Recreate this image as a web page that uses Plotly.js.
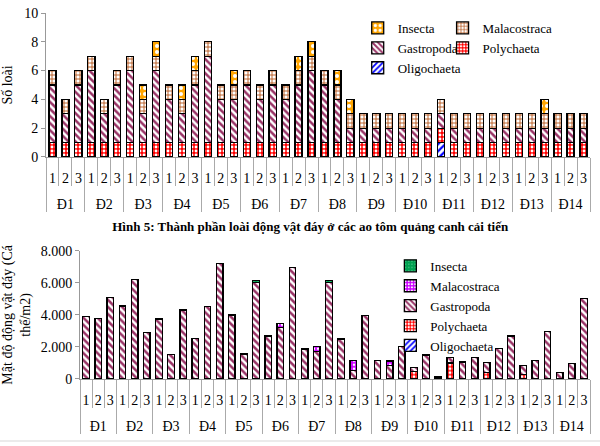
<!DOCTYPE html>
<html><head><meta charset="utf-8">
<script src="https://cdn.plot.ly/plotly-3.0.1.min.js"></script>
<style>body{margin:0;background:#fff}</style>
</head><body><div id="chart" style="width:600px;height:446px"></div>
<script>
const groups = ['Đ1','Đ2','Đ3','Đ4','Đ5','Đ6','Đ7','Đ8','Đ9','Đ10','Đ11','Đ12','Đ13','Đ14'];
const subs = ['1','2','3'];
const xOuter = [], xInner = [];
groups.forEach(g => subs.forEach(s => { xOuter.push(g); xInner.push(s); }));
const lab = s => '<span style="font-size:14px">' + s + '</span>';
const xOuterLabel = xOuter.map(lab);
const xInnerLabel = xInner.map(lab);

// Top chart: number of species (Số loài)
const topOligochaeta = [0,0,0, 0,0,0, 0,0,0, 0,0,0, 0,0,0, 0,0,0, 0,0,0, 0,0,0, 0,0,0, 0,0,0, 1,0,0, 0,0,0, 0,0,0, 0,0,0];
const topPolychaeta  = [1,1,1, 1,1,1, 1,1,1, 1,1,1, 1,1,1, 1,1,1, 1,1,1, 1,1,1, 1,1,1, 1,1,1, 1,1,1, 1,1,1, 1,1,1, 1,1,1];
const topGastropoda  = [4,2,4, 5,2,4, 5,2,5, 3,2,4, 6,3,3, 4,3,4, 3,4,5, 4,3,1, 1,1,1, 1,1,1, 1,1,1, 1,1,1, 1,1,1, 1,1,1];
const topMalacostraca= [1,1,1, 1,1,1, 1,1,1, 1,1,1, 1,1,1, 1,1,1, 1,1,1, 1,1,1, 1,1,1, 1,1,1, 1,1,1, 1,1,1, 1,1,1, 1,1,1];
const topInsecta     = [0,0,0, 0,0,0, 0,1,1, 0,1,1, 0,0,1, 0,0,0, 0,1,1, 0,1,1, 0,0,0, 0,0,0, 0,0,0, 0,0,0, 0,0,1, 0,0,0];

// Bottom chart: density (Cá thể/m2)
const botOligochaeta = [0,0,0, 0,0,0, 0,0,0, 0,0,0, 0,0,0, 0,0,0, 0,0,0, 0,0,0, 0,0,0, 0,0,0, 0,0,0, 0,0,0, 0,0,0, 0,0,0];
const botPolychaeta  = [0,0,0, 0,0,0, 0,0,0, 0,0,0, 0,0,0, 0,0,0, 0,0,0, 0,0,0, 0,0,0, 450,0,0, 1000,0,0, 400,0,0, 300,0,0, 0,0,0];
const botGastropoda  = [3880,3780,5070, 4560,6200,2920, 3750,1530,4300, 2540,4500,7200, 3990,1520,6000, 2680,3200,6940, 1870,1720,6000, 2490,540,3970, 1140,820,2020, 280,1500,120, 350,1060,1330, 620,1890,2680, 530,1160,2950, 400,980,5030];
const botMalacostraca= [0,0,0, 0,0,0, 0,0,0, 0,0,0, 0,80,0, 0,250,0, 0,300,0, 0,600,0, 0,300,0, 0,0,0, 0,0,0, 0,0,0, 0,0,0, 0,0,0];
const botInsecta     = [0,0,0, 0,0,0, 0,0,0, 0,0,0, 0,0,150, 0,0,0, 0,0,150, 0,0,0, 0,0,0, 0,0,0, 0,0,0, 0,0,0, 0,0,0, 0,0,0];

const yTickVals2 = [0,2000,4000,6000,8000];
const yTickText2 = ['0','2.000','4.000','6.000','8.000'];

const FONT = 'Liberation Serif, Times New Roman, serif';
const line = {color:'#000', width:1.3};

function bar(name, y, xa, ya, leg, color, pat) {
  return {type:'bar', name:name, x:[xOuterLabel, xInnerLabel], y:y, xaxis:xa, yaxis:ya, legend:leg,
    marker:{color:color, line:line, pattern:pat}, hoverinfo:'skip'};
}
function sep(xa, ya) {
  return {type:'scatter', mode:'markers', x:[xOuter, xInner], y:xOuter.map(() => 0), xaxis:xa, yaxis:ya,
    marker:{opacity:0, size:1}, showlegend:false, hoverinfo:'skip'};
}

const data = [
  bar('Oligochaeta', topOligochaeta, 'x','y','legend', '#fff', {shape:'/', fgcolor:'#0000ff', bgcolor:'#ffffff', size:5, solidity:0.45}),
  bar('Polychaeta', topPolychaeta, 'x','y','legend2', '#ff0000', {shape:'.', fgcolor:'#ffffff', bgcolor:'#ff0000', size:4, solidity:0.4}),
  bar('Gastropoda', topGastropoda, 'x','y','legend', '#fff', {shape:'\\', fgcolor:'#993366', bgcolor:'#ffffff', size:5, solidity:0.5}),
  bar('Malacostraca', topMalacostraca, 'x','y','legend2', '#fff', {shape:'+', fgcolor:'#b5571d', bgcolor:'#ffffff', size:4, solidity:0.4}),
  bar('Insecta', topInsecta, 'x','y','legend', '#ffa500', {shape:'.', fgcolor:'#ffffff', bgcolor:'#ffa500', size:6, solidity:0.35}),

  bar('Oligochaeta', botOligochaeta, 'x2','y2','legend3', '#fff', {shape:'/', fgcolor:'#0000ff', bgcolor:'#ffffff', size:5, solidity:0.45}),
  bar('Polychaeta', botPolychaeta, 'x2','y2','legend3', '#ff0000', {shape:'.', fgcolor:'#ffffff', bgcolor:'#ff0000', size:4, solidity:0.4}),
  bar('Gastropoda', botGastropoda, 'x2','y2','legend3', '#fff', {shape:'\\', fgcolor:'#993366', bgcolor:'#ffffff', size:5, solidity:0.5}),
  bar('Malacostraca', botMalacostraca, 'x2','y2','legend3', '#cc00ff', {shape:'.', fgcolor:'#ffffff', bgcolor:'#cc00ff', size:4, solidity:0.3}),
  bar('Insecta', botInsecta, 'x2','y2','legend3', '#00a050', {shape:'.', fgcolor:'#40c080', bgcolor:'#00a050', size:4, solidity:0.2}),

  sep('x3','y'), sep('x4','y2')
];

const xcommon = {type:'multicategory', showline:true, linecolor:'#999', linewidth:1,
  ticks:'', tickangle:0, range:[-0.5, 41.5], autorange:false, tickmode:'linear', tick0:0, dtick:1,
  ticklabelstandoff:-9,
  showdividers:true, dividercolor:'#aaa', dividerwidth:1,
  showgrid:false, zeroline:false, tickfont:{family:FONT, size:28, color:'#000'}};
const xsep = {type:'multicategory', showline:false, showticklabels:false, showdividers:false,
  ticks:'outside', tickson:'boundaries', ticklen:28, tickcolor:'#aaa', tickwidth:1,
  tickmode:'linear', tick0:0, dtick:1,
  range:[-0.5, 41.5], autorange:false, showgrid:false, zeroline:false};

const legendCommon = {bgcolor:'rgba(0,0,0,0)', font:{family:FONT, size:13, color:'#000'},
  traceorder:'reversed', itemwidth:30, orientation:'v', xanchor:'left', yanchor:'top'};

const layout = {
  width:600, height:446,
  margin:{l:46, r:10, t:13, b:67},
  paper_bgcolor:'#fff', plot_bgcolor:'rgba(0,0,0,0)',
  barmode:'stack', bargap:0.45,
  font:{family:FONT, color:'#000'},
  title:{text:'<b>Hình 5: Thành phần loài động vật đáy ở các ao tôm quảng canh cải tiến</b>',
    x:0.517, xanchor:'center', y:0.493, yanchor:'middle', font:{family:FONT, size:13, color:'#000'}},
  xaxis:Object.assign({}, xcommon, {domain:[0,1], anchor:'y'}),
  xaxis2:Object.assign({}, xcommon, {domain:[0.0625,1], anchor:'y2'}),
  xaxis3:Object.assign({}, xsep, {overlaying:'x', anchor:'y', side:'bottom'}),
  xaxis4:Object.assign({}, xsep, {overlaying:'x2', anchor:'y2', side:'bottom'}),
  yaxis:{domain:[0.6066,1], anchor:'x', range:[0,10], dtick:2, showline:true, linecolor:'#999',
    ticks:'outside', ticklen:4, tickcolor:'#999', showgrid:false, zeroline:false,
    tickfont:{family:FONT, size:14, color:'#000'},
    title:{text:'Số loài', font:{family:FONT, size:14, color:'#000'}, standoff:8}},
  yaxis2:{domain:[0,0.3505], anchor:'x2', range:[0,8000], tickvals:yTickVals2, ticktext:yTickText2,
    showline:true, linecolor:'#999', ticks:'outside', ticklen:4, tickcolor:'#999', showgrid:false, zeroline:false,
    tickfont:{family:FONT, size:14, color:'#000'},
    title:{text:'Mật độ động vật đáy (Cá<br>thể/m2)', font:{family:FONT, size:14, color:'#000'}, standoff:6}},
  legend:Object.assign({}, legendCommon, {x:0.573, y:1.0}),
  legend2:Object.assign({}, legendCommon, {x:0.729, y:1.0}),
  legend3:Object.assign({}, legendCommon, {x:0.633, y:0.35}),
  shapes:[{type:'line', xref:'paper', yref:'paper', x0:-0.09, x1:1.02, y0:-0.1694, y1:-0.1694,
    line:{color:'#e4e4e4', width:1.5}}],
  showlegend:true
};

Plotly.newPlot('chart', data, layout, {staticPlot:true, displayModeBar:false});
</script>
</body></html>
